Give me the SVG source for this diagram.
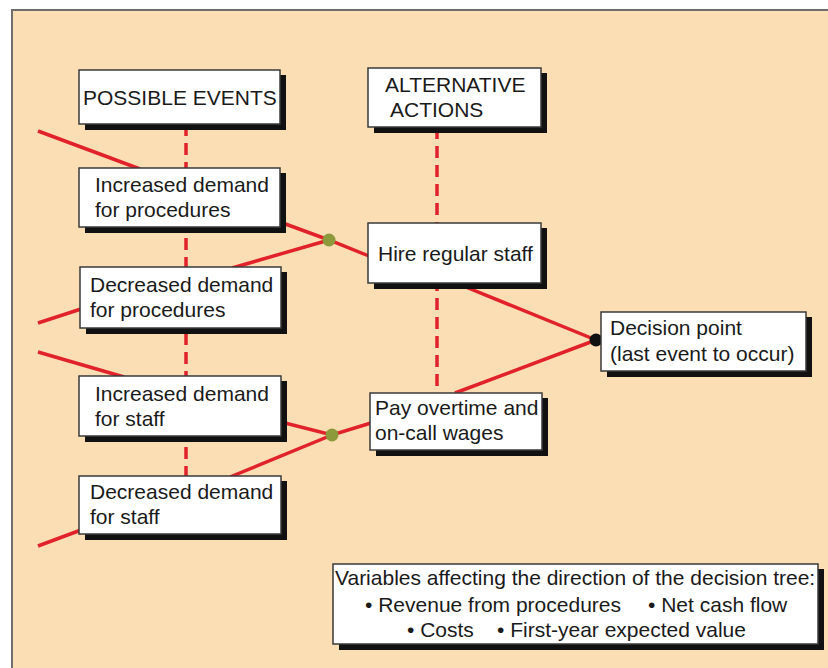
<svg xmlns="http://www.w3.org/2000/svg" width="828" height="668" viewBox="0 0 828 668">
<style>
.bg{fill:#fbdeb4;stroke:#6e6e6e;stroke-width:2}
.sh{fill:#111}
.bx{fill:#fff;stroke:#3a3a3a;stroke-width:1.5}
.t{font-family:"Liberation Sans",Arial,sans-serif;font-size:21px;fill:#1a1a1a}
.ln{stroke:#e2222b;stroke-width:3.5;fill:none;stroke-linecap:butt}
.ds{stroke:#e2222b;stroke-width:3.5;fill:none;stroke-dasharray:12 7}
.gd{fill:#8c9a3b}
</style>
<rect width="828" height="668" fill="#fff"/>
<rect class="bg" x="12" y="10" width="830" height="670"/>
<g id="connectors">
<line class="ds" x1="186" y1="124" x2="186" y2="476"/>
<line class="ds" x1="437" y1="127" x2="437" y2="393"/>
<line class="ln" x1="38" y1="131" x2="140" y2="169"/>
<polyline class="ln" points="280,222 329,240 369,256"/>
<line class="ln" x1="329" y1="240" x2="232" y2="268"/>
<line class="ln" x1="38" y1="323" x2="81" y2="309"/>
<line class="ln" x1="38" y1="352" x2="124" y2="377"/>
<polyline class="ln" points="281,422 332,435 371,423"/>
<line class="ln" x1="332" y1="435" x2="230" y2="477"/>
<line class="ln" x1="38" y1="546" x2="81" y2="530"/>
<line class="ln" x1="456" y1="283" x2="596" y2="340"/>
<line class="ln" x1="455" y1="393" x2="596" y2="340"/>
<circle class="gd" cx="329" cy="240" r="6.5"/>
<circle class="gd" cx="332" cy="435" r="6.5"/>
<circle fill="#111" cx="596" cy="340" r="6.5"/>
</g>
<g id="possible-events">
<rect class="sh" x="85" y="75" width="201" height="55"/>
<rect class="bx" x="79" y="70" width="201" height="54"/>
<text class="t" x="83" y="105">POSSIBLE EVENTS</text>
</g>
<g id="inc-proc">
<rect class="sh" x="85" y="173" width="201" height="60"/>
<rect class="bx" x="79" y="168" width="201" height="59"/>
<text class="t" x="95" y="192">Increased demand</text>
<text class="t" x="95" y="217">for procedures</text>
</g>
<g id="dec-proc">
<rect class="sh" x="86" y="272" width="201" height="62"/>
<rect class="bx" x="80" y="267" width="201" height="61"/>
<text class="t" x="90" y="292">Decreased demand</text>
<text class="t" x="90" y="317">for procedures</text>
</g>
<g id="inc-staff">
<rect class="sh" x="85" y="381" width="202" height="61"/>
<rect class="bx" x="79" y="376" width="202" height="60"/>
<text class="t" x="95" y="401">Increased demand</text>
<text class="t" x="95" y="426">for staff</text>
</g>
<g id="dec-staff">
<rect class="sh" x="85" y="481" width="202" height="59"/>
<rect class="bx" x="79" y="476" width="202" height="58"/>
<text class="t" x="90" y="499">Decreased demand</text>
<text class="t" x="90" y="524">for staff</text>
</g>
<g id="alt-actions">
<rect class="sh" x="374" y="73" width="173" height="60"/>
<rect class="bx" x="368" y="68" width="173" height="59"/>
<text class="t" x="385" y="92">ALTERNATIVE</text>
<text class="t" x="390" y="117">ACTIONS</text>
</g>
<g id="hire">
<rect class="sh" x="374" y="228" width="173" height="61"/>
<rect class="bx" x="368" y="223" width="173" height="60"/>
<text class="t" x="378" y="261">Hire regular staff</text>
</g>
<g id="pay">
<rect class="sh" x="376" y="398" width="172" height="58"/>
<rect class="bx" x="370" y="393" width="172" height="57"/>
<text class="t" x="375" y="415">Pay overtime and</text>
<text class="t" x="375" y="440">on-call wages</text>
</g>
<g id="decision">
<rect class="sh" x="607" y="317" width="205" height="60"/>
<rect class="bx" x="601" y="312" width="205" height="59"/>
<text class="t" x="610" y="335">Decision point</text>
<text class="t" x="610" y="361">(last event to occur)</text>
</g>
<g id="variables">
<rect class="sh" x="339" y="569" width="485" height="81"/>
<rect class="bx" x="333" y="564" width="485" height="80"/>
<text class="t" x="335" y="585">Variables affecting the direction of the decision tree:</text>
<text class="t" x="365" y="612">• Revenue from procedures</text>
<text class="t" x="648" y="612">• Net cash flow</text>
<text class="t" x="407" y="637">• Costs</text>
<text class="t" x="497" y="637">• First-year expected value</text>
</g>
</svg>
